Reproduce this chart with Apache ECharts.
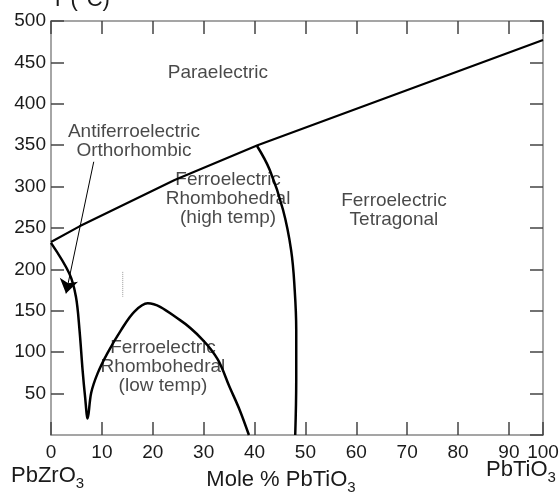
<!DOCTYPE html>
<html>
<head>
<meta charset="utf-8">
<title>PbZrO3 - PbTiO3 phase diagram</title>
<script src="https://cdn.jsdelivr.net/npm/echarts@6/dist/echarts.min.js"></script>
<style>
  html, body { margin: 0; padding: 0; background: #fff; }
  #chart { width: 559px; height: 498px; }
</style>
</head>
<body>
<div id="chart"></div>
<script>
// phase boundaries, [mole % PbTiO3, T (°C)]
const cubicBoundary = [[0, 233], [5.6, 252], [24.3, 308], [40.6, 350], [96.7, 477]];
const lowerBoundary = [
  [0, 232], [3.6, 195], [4.9, 167], [5.6, 127], [6.2, 79], [6.7, 46], [7.2, 20],
  [7.9, 51], [9.2, 75], [11.1, 99], [13.8, 127], [16.4, 149], [19.0, 159],
  [25.3, 139], [29.8, 115], [32.8, 91], [35.1, 58], [37.1, 30], [38.9, 0]
];
const mpbBoundary = [[40.5, 349], [43.0, 320], [45.6, 272], [47.2, 223], [47.9, 175], [48.2, 127], [48.2, 66], [48.0, 0]];
const dottedMark = [[14.1, 197], [14.1, 167]];
const arrowFrom = [8.4, 330];
const arrowTo = [2.95, 171];

const regionNames = [
  "Paraelectric",
  "Antiferroelectric\nOrthorhombic",
  "Ferroelectric\nRhombohedral\n(high temp)",
  "Ferroelectric\nTetragonal",
  "Ferroelectric\nRhombohedral\n(low temp)"
];
const regionAt = [[32.8, 438], [16.3, 355], [34.8, 285], [67.4, 272], [22.0, 83]];

// the right edge of the printed axis is labelled 100
const xEnd = 96.7;
const xTickLabels = ["0", "10", "20", "30", "40", "50", "60", "70", "80", "90", "100"];

const font = "'Liberation Sans', Arial, sans-serif";
const ink = "#1a1a1a";
const subRich = { s: { fontSize: 15, padding: [15, 0, 0, 0], fontFamily: font, color: ink } };

const chart = echarts.init(document.getElementById("chart"));

const frameLine = { onZero: false, lineStyle: { color: "#888", width: 1.5 } };
const innerTick = { inside: true, length: 13, lineStyle: { color: "#444", width: 1.5 } };

const option = {
  animation: false,
  textStyle: { fontFamily: font },
  grid: { left: 51, right: 16, top: 21, bottom: 63, containLabel: false, outerBoundsMode: "none" },
  xAxis: [
    {
      type: "value",
      position: "bottom",
      min: 0,
      max: xEnd,
      interval: 10,
      axisLine: frameLine,
      axisTick: innerTick,
      splitLine: { show: false },
      axisLabel: {
        color: ink,
        fontSize: 19,
        margin: 8,
        formatter: (v, i) => xTickLabels[i]
      },
      name: "Mole % PbTiO{s|3}",
      nameLocation: "middle",
      nameGap: 30,
      nameTextStyle: { fontSize: 22, color: ink, padding: [0, 32, 0, 0], rich: subRich }
    },
    {
      type: "value",
      position: "top",
      min: 0,
      max: xEnd,
      interval: 10,
      axisLine: frameLine,
      axisTick: innerTick,
      axisLabel: { show: false },
      splitLine: { show: false }
    }
  ],
  yAxis: [
    {
      type: "value",
      position: "left",
      min: 0,
      max: 500,
      interval: 50,
      axisLine: frameLine,
      axisTick: innerTick,
      splitLine: { show: false },
      axisLabel: { color: ink, fontSize: 19, margin: 5, showMinLabel: false },
      name: "T (°C)",
      nameLocation: "end",
      nameGap: 10,
      nameTextStyle: { fontSize: 22, color: ink, align: "left", verticalAlign: "bottom" }
    },
    {
      type: "value",
      position: "right",
      min: 0,
      max: 500,
      interval: 50,
      axisLine: frameLine,
      axisTick: innerTick,
      axisLabel: { show: false },
      splitLine: { show: false }
    }
  ],
  graphic: [
    {
      type: "text",
      left: 11,
      top: 465,
      style: { text: "PbZrO{s|3}", fontSize: 22, fontFamily: font, fill: ink, rich: subRich }
    },
    {
      type: "text",
      left: 486,
      top: 459,
      style: { text: "PbTiO{s|3}", fontSize: 22, fontFamily: font, fill: ink, rich: subRich }
    }
  ],
  series: [
    {
      name: "cubic",
      type: "line",
      data: cubicBoundary,
      showSymbol: false,
      silent: true,
      lineStyle: { color: "#000", width: 2.2 }
    },
    {
      name: "lower",
      type: "line",
      data: lowerBoundary,
      smooth: 0.35,
      showSymbol: false,
      silent: true,
      lineStyle: { color: "#000", width: 2.5 }
    },
    {
      name: "mpb",
      type: "line",
      data: mpbBoundary,
      smooth: 0.4,
      showSymbol: false,
      silent: true,
      lineStyle: { color: "#000", width: 2.5 }
    },
    {
      name: "dotted",
      type: "line",
      data: dottedMark,
      showSymbol: false,
      silent: true,
      lineStyle: { color: "#999", width: 1, type: "dotted" }
    },
    {
      name: "arrow",
      type: "lines",
      coordinateSystem: "cartesian2d",
      silent: true,
      symbol: ["none", "arrow"],
      symbolSize: 14,
      lineStyle: { color: "#000", width: 1, opacity: 1 },
      data: [{ coords: [arrowFrom, arrowTo] }]
    },
    {
      name: "regions",
      type: "scatter",
      silent: true,
      symbolSize: 1,
      itemStyle: { color: "rgba(0,0,0,0)" },
      label: {
        show: true,
        position: "inside",
        formatter: "{b}",
        color: ink,
        fontSize: 19,
        lineHeight: 19,
        align: "center"
      },
      data: regionAt.map((p, i) => ({ value: p, name: regionNames[i] }))
    }
  ]
};

chart.setOption(option);
</script>
</body>
</html>
